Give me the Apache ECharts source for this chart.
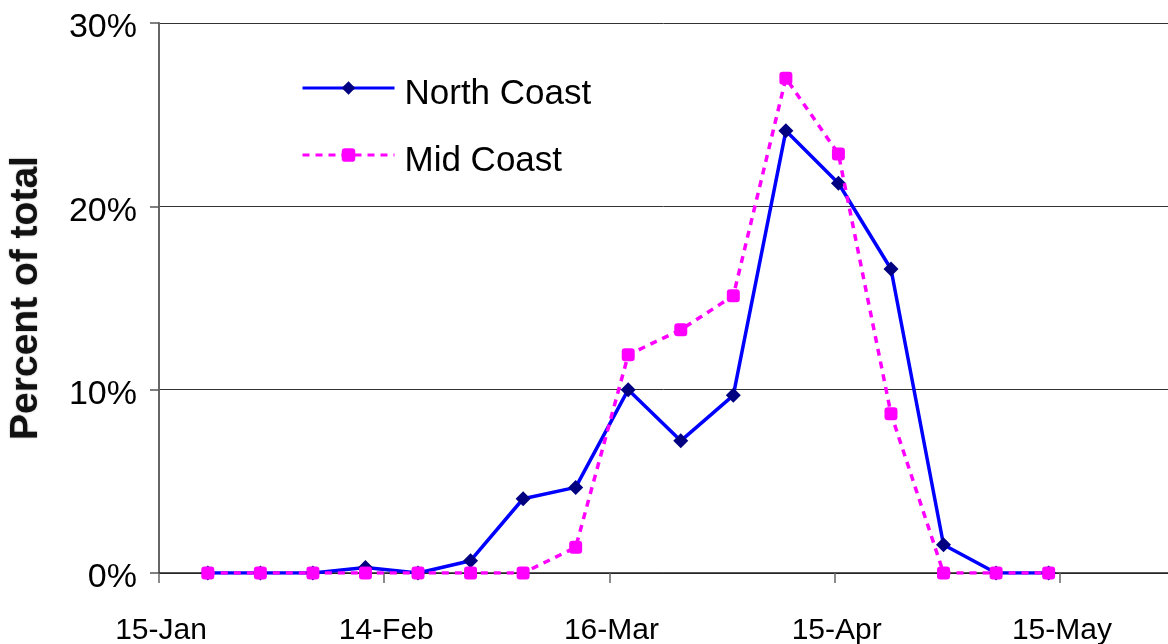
<!DOCTYPE html>
<html>
<head>
<meta charset="utf-8">
<script src="https://cdn.jsdelivr.net/npm/echarts@6/dist/echarts.min.js"></script>
<style>
  html, body { margin: 0; padding: 0; background: #fff; }
  #chart { width: 1168px; height: 644px; }
</style>
</head>
<body>
<div id="chart"></div>
<script>
// Weekly sampling dates (start of each week)
const weekDates = ['21-Jan', '28-Jan', '4-Feb', '11-Feb', '18-Feb', '25-Feb', '4-Mar', '11-Mar',
  '18-Mar', '25-Mar', '1-Apr', '8-Apr', '15-Apr', '22-Apr', '29-Apr', '6-May', '13-May'];

// Share of the season total caught each week, in percent
const northCoast = [0, 0, 0, 0.3, 0, 0.67, 4.05, 4.67, 10.0, 7.21, 9.69, 24.12, 21.26, 16.58, 1.54, 0, 0];
const midCoast = [0, 0, 0, 0, 0, 0, 0, 1.40, 11.9, 13.27, 15.12, 26.99, 22.86, 8.69, 0, 0, 0];

// Date-axis tick labels, one every 30 days from 15-Jan
const tickLabels = ['15-Jan', '14-Feb', '16-Mar', '15-Apr', '15-May'];
const yTicks = [0, 10, 20, 30];

const MONTHS = ['Jan', 'Feb', 'Mar', 'Apr', 'May', 'Jun'];
const ORIGIN = Date.UTC(2001, 0, 15);
// Days elapsed since 15-Jan for a 'D-Mon' string
function dayOffset(s) {
  const [d, m] = s.split('-');
  return Math.round((Date.UTC(2001, MONTHS.indexOf(m), +d) - ORIGIN) / 86400000);
}

// Each point sits in the middle of its day slot
const toPoints = vals => vals.map((v, i) => [dayOffset(weekDates[i]) + 0.5, v]);

const FONT = '"Liberation Sans", Arial, sans-serif';

const chart = echarts.init(document.getElementById('chart'), null, { renderer: 'canvas' });
chart.setOption({
  animation: false,
  backgroundColor: '#ffffff',
  textStyle: { fontFamily: FONT },
  grid: {
    left: 159, top: 23, width: 1009, height: 550,
    containLabel: false,
    outerBoundsMode: 'none'
  },
  legend: {
    orient: 'vertical',
    left: 301,
    top: 77,
    padding: 0,
    itemWidth: 92,
    itemHeight: 17,
    itemGap: 32,
    lineStyle: { width: 3 },
    // a tall spacer token lets the name sit a little below the line sample
    formatter: name => '{s| }{t|' + name + '}',
    textStyle: {
      color: '#000',
      fontFamily: FONT,
      rich: {
        s: { width: 5, fontSize: 10, lineHeight: 48 },
        t: { fontSize: 35, lineHeight: 36, verticalAlign: 'bottom', color: '#000', fontFamily: FONT }
      }
    },
    data: ['North Coast', 'Mid Coast']
  },
  xAxis: {
    type: 'value',
    min: 0,
    max: 134.4,
    interval: 30,
    axisLine: { show: true, lineStyle: { color: '#222', width: 1.5 } },
    axisTick: { show: true, inside: false, length: 10, lineStyle: { color: '#666', width: 1.5 } },
    axisLabel: {
      fontSize: 30,
      color: '#000',
      margin: 43,
      padding: [0, 0, 0, 4],
      showMaxLabel: false,
      formatter: v => {
        const t = tickLabels.find(l => dayOffset(l) === v);
        return t || '';
      }
    },
    splitLine: { show: false }
  },
  yAxis: {
    type: 'value',
    min: yTicks[0],
    max: yTicks[yTicks.length - 1],
    interval: 10,
    name: 'Percent of total',
    nameLocation: 'middle',
    nameGap: 113,
    nameTextStyle: {
      fontSize: 39,
      fontWeight: 'bold',
      color: '#111',
      fontFamily: FONT,
      textShadowColor: 'rgba(0,0,0,0.35)',
      textShadowBlur: 2
    },
    axisLine: { show: true, lineStyle: { color: '#666', width: 2 } },
    axisTick: { show: true, inside: false, length: 9, lineStyle: { color: '#555', width: 1.5 } },
    axisLabel: {
      fontSize: 34,
      color: '#000',
      margin: 22,
      // labels hang a few pixels below their gridline
      verticalAlign: 'top',
      lineHeight: 10,
      formatter: '{value}%'
    },
    splitLine: { show: true, lineStyle: { color: '#333', width: 1 } }
  },
  series: [
    {
      name: 'North Coast',
      type: 'line',
      data: toPoints(northCoast),
      symbol: 'diamond',
      symbolSize: 15,
      itemStyle: { color: '#000080' },
      lineStyle: { color: '#0000ff', width: 3.5 },
      z: 2
    },
    {
      name: 'Mid Coast',
      type: 'line',
      data: toPoints(midCoast),
      symbol: 'roundRect',
      symbolSize: 13,
      itemStyle: { color: '#ff00ff' },
      lineStyle: { color: '#ff00ff', width: 3.5, type: [7, 6] },
      z: 3
    }
  ]
});
</script>
</body>
</html>
